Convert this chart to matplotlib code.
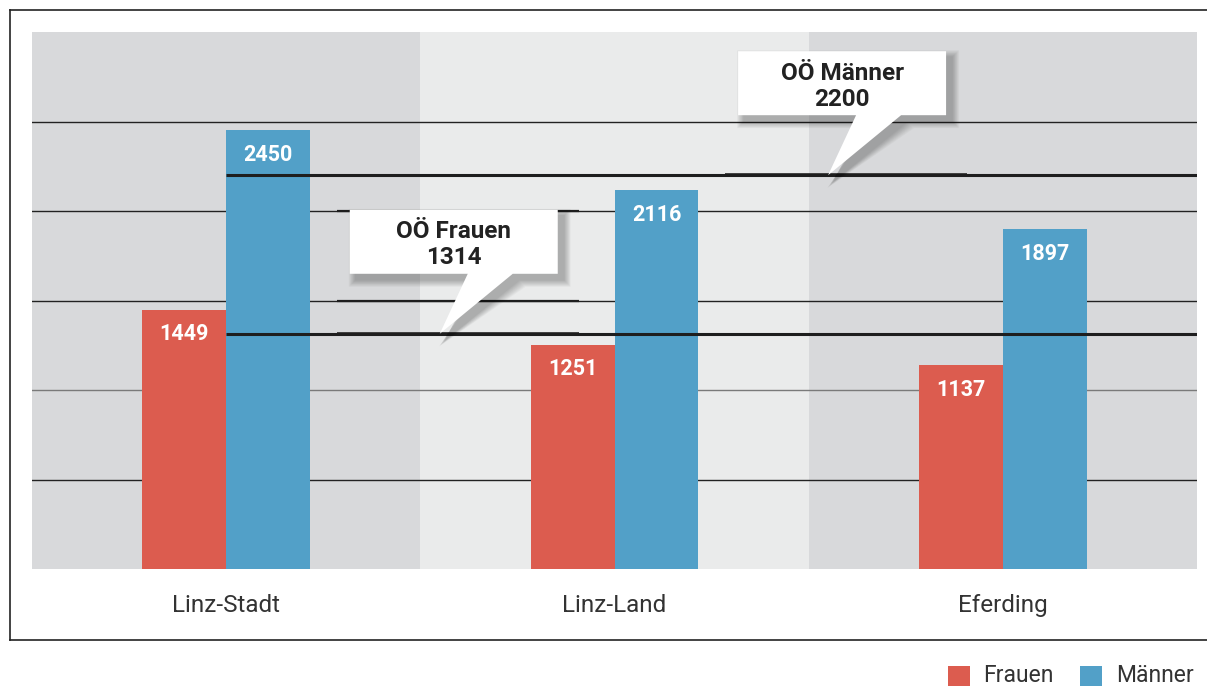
import matplotlib
matplotlib.use("Agg")
import matplotlib.pyplot as plt
from matplotlib.patches import Rectangle, Polygon
import numpy as np

# ---- data ----
categories = ["Linz-Stadt", "Linz-Land", "Eferding"]
frauen = [1449, 1251, 1137]
maenner = [2450, 2116, 1897]
ooe_frauen = 1314
ooe_maenner = 2200
series_names = ["Frauen", "Männer"]
grid_values = [500, 1000, 1500, 2000, 2500]

# ---- style ----
W, H = 1207, 686
RED = "#DC5C4F"
BLUE = "#52A0C8"
BAND_DARK = "#D8D9DB"
BAND_LIGHT = "#EAEBEB"
FONT = ["Roboto", "DejaVu Sans"]

fig = plt.figure(figsize=(W / 100, H / 100), dpi=100)
ax = fig.add_axes([32 / W, (H - 569) / H, (1197 - 32) / W, (569 - 32) / H])
ax.set_xlim(-0.5, 2.5)
ax.set_ylim(0, 3000)
ax.axis("off")

x = np.arange(len(categories))
bw = 0.216

# background bands
for i in x:
    ax.axvspan(i - 0.5, i + 0.5, color=BAND_LIGHT if i == 1 else BAND_DARK, zorder=0, lw=0)

# gridlines
for g in grid_values:
    c = "#7a7a7a" if g == 1000 else "#222222"
    ax.axhline(g, color=c, lw=1.0, zorder=1)

# bars
b1 = ax.bar(x - bw / 2, frauen, bw, color=RED, zorder=2, lw=0)
b2 = ax.bar(x + bw / 2, maenner, bw, color=BLUE, zorder=2, lw=0)

# value labels
for bars, vals in ((b1, frauen), (b2, maenner)):
    for r, v in zip(bars, vals):
        ax.annotate(f"{v}", (r.get_x() + r.get_width() / 2, v), xytext=(0, -17.5),
                    textcoords="offset points", ha="center", va="center",
                    color="white", fontsize=15.5, fontweight="bold", family=FONT, zorder=5)

# reference lines
for v in (ooe_frauen, ooe_maenner):
    ax.plot([0, 2.5], [v, v], color="#1e1e1e", lw=2.2, zorder=3, solid_capstyle="butt")

fig.canvas.draw()


def callout(xtip, value, label):
    px, py = ax.transData.transform((xtip, value))

    def f(pts):
        return [((px + dx) / W, (py + dy) / H) for dx, dy in pts]

    shape = [(-90, 60), (28, 60), (0, 0), (73, 60), (118, 60), (118, 124), (-90, 124)]
    # soft shadow
    for k in range(10, 0, -1):
        grow = k * 0.7
        sh = []
        for dx, dy in shape:
            sx = dx + 6 + (grow if dx > 14 else -grow)
            sy = dy - 6 + (grow if dy > 90 else -grow)
            sh.append((sx, sy))
        fig.patches.append(Polygon(f(sh), closed=True, transform=fig.transFigure,
                                   facecolor="black", alpha=0.026, lw=0, zorder=6))
    fig.patches.append(Polygon(f(shape), closed=True, transform=fig.transFigure,
                               facecolor="white", lw=0, zorder=7))
    fig.text((px + 14) / W, (py + 89) / H, label, ha="center", va="center",
             fontsize=17.5, fontweight="bold", family=FONT, color="#222222",
             linespacing=1.17, zorder=8)


def seg(xtip, values):
    px, _ = ax.transData.transform((xtip, 0))
    x0 = ax.transData.inverted().transform((px - 103, 0))[0]
    x1 = ax.transData.inverted().transform((px + 139, 0))[0]
    for v in values:
        ax.plot([x0, x1], [v, v], color="#1e1e1e", lw=1.6 if v in grid_values else 2.6,
                zorder=3, solid_capstyle="butt")


seg(0.55, [1500, 2000, ooe_frauen])
seg(1.55, [ooe_maenner])
callout(0.55, ooe_frauen, f"OÖ Frauen\n{ooe_frauen}")
callout(1.55, ooe_maenner, f"OÖ Männer\n{ooe_maenner}")

# category labels
for i, c in zip(x, categories):
    ax.text(i, -205, c, ha="center", va="center", fontsize=17.5, family=FONT,
            color="#333333", clip_on=False)

# outer frame
fig.add_artist(plt.Line2D([10 / W, 10 / W], [(H - 9.5) / H, (H - 640) / H],
                          transform=fig.transFigure, color="#222222", lw=1.2))
fig.add_artist(plt.Line2D([10 / W, 1], [(H - 9.5) / H, (H - 9.5) / H],
                          transform=fig.transFigure, color="#222222", lw=1.2))
fig.add_artist(plt.Line2D([10 / W, 1], [(H - 640) / H, (H - 640) / H],
                          transform=fig.transFigure, color="#222222", lw=1.2))

# legend
fig.patches.append(Rectangle((948 / W, (H - 687) / H), 22 / W, 21 / H,
                             transform=fig.transFigure, facecolor=RED, lw=0))
fig.text(983 / W, (H - 675) / H, series_names[0], fontsize=16.5, family=FONT,
         color="#333333", va="center", ha="left")
fig.patches.append(Rectangle((1080 / W, (H - 687) / H), 22 / W, 21 / H,
                             transform=fig.transFigure, facecolor=BLUE, lw=0))
fig.text(1116 / W, (H - 675) / H, series_names[1], fontsize=16.5, family=FONT,
         color="#333333", va="center", ha="left")

fig.savefig("out.png", dpi=100, facecolor="white")
